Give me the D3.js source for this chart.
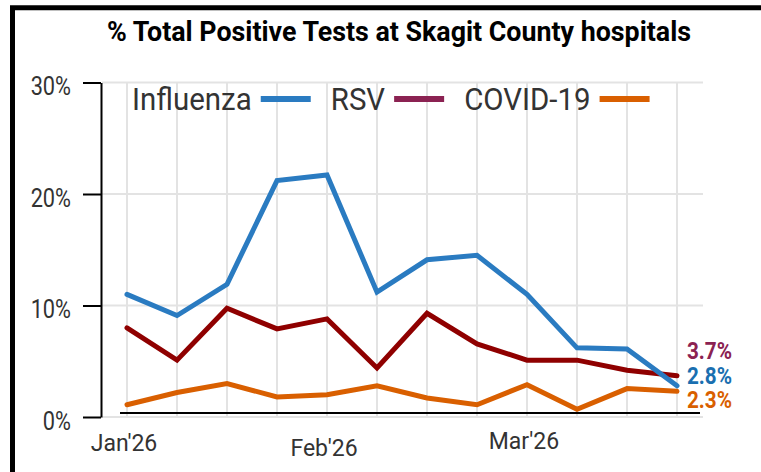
<!DOCTYPE html>
<html>
<head>
<meta charset="utf-8">
<script src="https://cdn.jsdelivr.net/npm/d3@7"></script>
<style>
  body { margin: 0; background: #fff; }
  svg text { font-family: Roboto, "Noto Sans", sans-serif; }
  .sq { transform-box: fill-box; }
</style>
</head>
<body>
<svg width="761" height="472"></svg>
<script>
// weekly data, % positive
const weeks = ["2026-W01","2026-W02","2026-W03","2026-W04","2026-W05","2026-W06",
               "2026-W07","2026-W08","2026-W09","2026-W10","2026-W11","2026-W12"];
const influenza = [11.0, 9.1, 11.9, 21.2, 21.7, 11.2, 14.1, 14.5, 11.0, 6.2, 6.1, 2.8];
const rsv       = [8.0, 5.1, 9.75, 7.9, 8.8, 4.4, 9.3, 6.55, 5.1, 5.1, 4.2, 3.7];
const covid     = [1.1, 2.2, 3.0, 1.8, 2.0, 2.8, 1.7, 1.1, 2.9, 0.7, 2.55, 2.3];

const seriesNames = ["Influenza", "RSV", "COVID-19"];
const monthTicks  = ["2026-W01", "2026-W05", "2026-W09"];
const monthLabels = ["Jan'26", "Feb'26", "Mar'26"];
const yTicks = [0, 10, 20, 30];

let svg = d3.select("svg");

// colours
const lineColor   = { "Influenza": "#2a7bc1", "RSV": "#8f0000", "COVID-19": "#d95f00" };
const legendColor = { "Influenza": "#2a7bc1", "RSV": "#8b2252", "COVID-19": "#d95f00" };
const labelColor  = { "Influenza": "#1a6fb0", "RSV": "#8b2252", "COVID-19": "#d95f00" };

let x = d3.scalePoint().domain(weeks).range([102, 702]).padding(0.5);
let y = d3.scaleLinear().domain([0, 30]).range([417, 82.5]);

// squeeze text a bit, looks like a condensed font
function squeeze(sel, k, origin) {
  sel.attr("class", "sq")
     .style("transform-origin", origin)
     .style("transform", "scaleX(" + k + ")");
}

// frame
svg.append("rect")
   .attr("x", 12.5).attr("y", 7.75)
   .attr("width", 900).attr("height", 600)
   .attr("fill", "none").attr("stroke", "#000").attr("stroke-width", 5);

// title
svg.append("text")
   .attr("x", 399).attr("y", 41)
   .attr("text-anchor", "middle")
   .attr("font-size", 27).attr("font-weight", 700)
   .attr("textLength", 584).attr("lengthAdjust", "spacingAndGlyphs")
   .text("% Total Positive Tests at Skagit County hospitals");

// grid
let grid = svg.append("g").attr("stroke", "#e3e3e3").attr("stroke-width", 2);
grid.selectAll("line.h").data(yTicks).enter().append("line")
    .attr("x1", 102).attr("x2", 703)
    .attr("y1", d => y(d)).attr("y2", d => y(d));
grid.selectAll("line.v").data(weeks).enter().append("line")
    .attr("x1", d => x(d)).attr("x2", d => x(d))
    .attr("y1", y(30)).attr("y2", y(0));

// y axis
let yAxis = svg.append("g")
   .attr("transform", "translate(101,0)")
   .call(d3.axisLeft(y).tickValues(yTicks).tickSize(18).tickSizeOuter(0)
          .tickPadding(12).tickFormat(d => d + "%"));
yAxis.select(".domain").attr("stroke", "#000").attr("stroke-width", 2);
yAxis.selectAll(".tick line").attr("stroke", "#000").attr("stroke-width", 2);
yAxis.selectAll(".tick text")
     .attr("font-size", 25).attr("fill", "#333").attr("dy", "0.48em")
     .style("font-family", "Roboto")
     .call(squeeze, 0.87, "right center");

// baseline
svg.append("line")
   .attr("x1", x(weeks[0]) - 7).attr("x2", x(weeks[11]) + 23)
   .attr("y1", y(0) - 4).attr("y2", y(0) - 4)
   .attr("stroke", "#000").attr("stroke-width", 2);

// month labels (they sit a little uneven in the original)
const labelNudge = [0, 5, -2.5];
svg.selectAll("text.month").data(monthTicks).enter().append("text")
   .attr("x", d => x(d) - 3)
   .attr("y", (d, i) => 451 + labelNudge[i])
   .attr("text-anchor", "middle")
   .attr("font-size", 23).attr("fill", "#333")
   .text((d, i) => monthLabels[i]);

// lines
let series = [
  { name: "RSV", values: rsv },
  { name: "COVID-19", values: covid },
  { name: "Influenza", values: influenza }
];
let line = d3.line().x((d, i) => x(weeks[i])).y(d => y(d));
svg.append("g").selectAll("path").data(series).enter().append("path")
   .attr("d", d => line(d.values))
   .attr("fill", "none")
   .attr("stroke", d => lineColor[d.name])
   .attr("stroke-width", 5)
   .attr("stroke-linecap", "round");

// end labels, dodged so they don't overlap
let ends = series.map(s => ({ name: s.name, v: s.values[s.values.length - 1] }))
                 .sort((a, b) => b.v - a.v);
let midY = y(ends[1].v) - 10;
ends.forEach((e, i) => { e.cy = midY + (i - 1) * 24.5; });
svg.selectAll("text.end").data(ends).enter().append("text")
   .attr("x", 687).attr("y", d => d.cy + 8)
   .attr("font-size", 23).attr("font-weight", 700)
   .attr("fill", d => labelColor[d.name])
   .text(d => d.v.toFixed(1) + "%")
   .call(squeeze, 0.9, "left center");

// legend
let lx = 132;
seriesNames.forEach(name => {
  let t = svg.append("text")
     .attr("x", lx).attr("y", 110)
     .attr("font-size", 31).attr("fill", "#333")
     .text(name);
  let w = t.node().getComputedTextLength() * 0.95;
  squeeze(t, 0.95, "left center");
  svg.append("line")
     .attr("x1", lx + w + 9).attr("x2", lx + w + 59)
     .attr("y1", 99).attr("y2", 99)
     .attr("stroke", legendColor[name]).attr("stroke-width", 6);
  lx += w + 59 + 20;
});
</script>
</body>
</html>
